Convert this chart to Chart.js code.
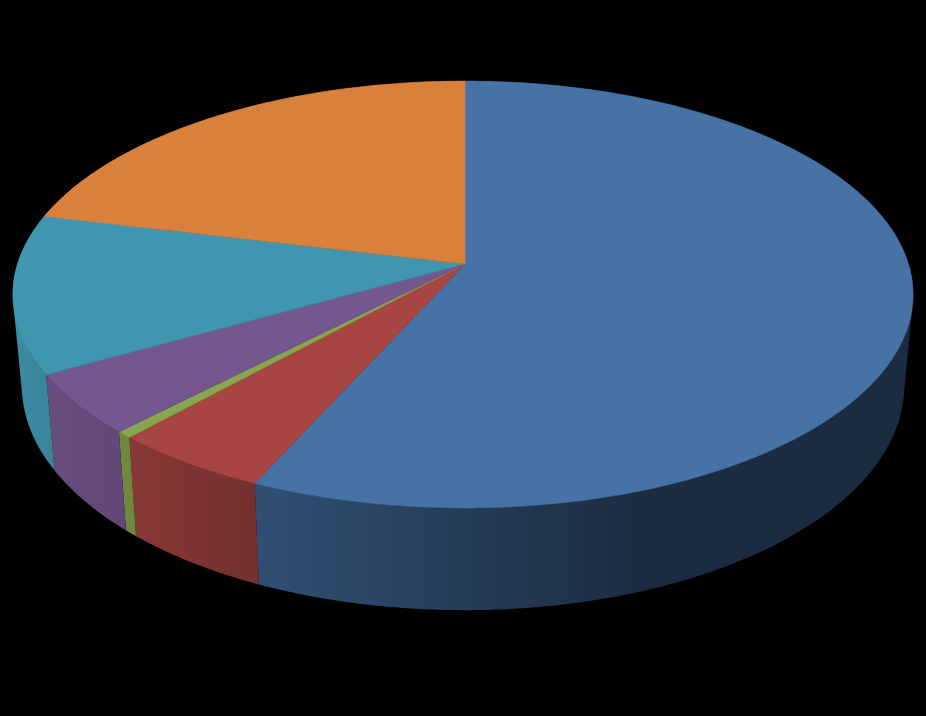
<!DOCTYPE html>
<html>
<head>
<meta charset="utf-8">
<title>Pie</title>
<script src="https://cdn.jsdelivr.net/npm/chart.js@4"></script>
<style>
html, body { margin: 0; padding: 0; background: #000; }
canvas { display: block; }
</style>
</head>
<body>
<canvas id="pie-chart" width="926" height="716"></canvas>
<script>
var categories = ["A", "B", "C", "D", "E", "F"];
var shares = [56.7, 5.0, 0.5, 4.6, 12.0, 21.2];
var topColors = ["#4672a6", "#a64542", "#89a54e", "#75578f", "#4096ae", "#d8813c"];

// perspective of the disc: the pie centre does not land on the ellipse centre
var apexX = 465, apexY = 264;
var persp = -0.1429;
var radiusLeft = 447.5, radiusRight = 443.5, radiusY = 209.1;
// lower rim of the wall
var floorY = 354, floorScaleX = 0.98, floorScaleY = 1.05;

function rimPoint(angle, lower) {
    var X = Math.cos(angle), Y = Math.sin(angle);
    var w = 1 + persp * Y;
    var px = (X < 0 ? radiusLeft : radiusRight) * X / w;
    var py = radiusY * Y / w;
    if (lower) {
        return { x: apexX + px * floorScaleX, y: floorY + py * floorScaleY };
    }
    return { x: apexX + px, y: apexY + py };
}

// wall gets darker from left to right, flat after the middle
function wallShade(x) {
    if (x < 255) return 0.92 - (x - 20) * 0.22 / 235;
    if (x < 640) return 0.70 - (x - 255) * 0.31 / 385;
    return 0.39;
}

function shadeColor(hex, f) {
    var r = parseInt(hex.substr(1, 2), 16);
    var g = parseInt(hex.substr(3, 2), 16);
    var b = parseInt(hex.substr(5, 2), 16);
    return "rgb(" + Math.round(r * f) + "," + Math.round(g * f) + "," + Math.round(b * f) + ")";
}

function wallGradient(ctx, color) {
    var grad = ctx.createLinearGradient(0, 0, 926, 0);
    for (var x = 0; x <= 926; x += 10) {
        grad.addColorStop(x / 926, shadeColor(color, wallShade(x)));
    }
    return grad;
}

// all quads turned the same way so the nonzero fill gives their union
function addQuad(ctx, q) {
    var area = 0;
    for (var n = 0; n < 4; n++) {
        var m = (n + 1) % 4;
        area += q[n].x * q[m].y - q[m].x * q[n].y;
    }
    if (area < 0) q.reverse();
    ctx.moveTo(q[0].x, q[0].y);
    ctx.lineTo(q[1].x, q[1].y);
    ctx.lineTo(q[2].x, q[2].y);
    ctx.lineTo(q[3].x, q[3].y);
    ctx.closePath();
}

var pie3d = {
    id: "pie3d",
    beforeDatasetsDraw: function (chart) {
        var ctx = chart.ctx;
        var arcs = chart.getDatasetMeta(0).data;
        var step = Math.PI / 360;

        ctx.save();
        // side wall
        arcs.forEach(function (arc, i) {
            ctx.beginPath();
            for (var a = arc.startAngle; a < arc.endAngle; a += step) {
                var b = Math.min(a + step, arc.endAngle);
                addQuad(ctx, [rimPoint(a, false), rimPoint(b, false), rimPoint(b, true), rimPoint(a, true)]);
            }
            ctx.fillStyle = wallGradient(ctx, topColors[i]);
            ctx.fill();
        });
        // top face
        arcs.forEach(function (arc, i) {
            ctx.beginPath();
            ctx.moveTo(apexX, apexY);
            for (var a = arc.startAngle; a < arc.endAngle; a += step) {
                var p = rimPoint(a, false);
                ctx.lineTo(p.x, p.y);
            }
            var end = rimPoint(arc.endAngle, false);
            ctx.lineTo(end.x, end.y);
            ctx.closePath();
            ctx.fillStyle = topColors[i];
            ctx.strokeStyle = topColors[i];
            ctx.lineWidth = 0.5;
            ctx.fill();
            ctx.stroke();
        });
        ctx.restore();
        return false;
    }
};

var pieChart = new Chart(document.getElementById("pie-chart"), {
    type: "pie",
    data: {
        labels: categories,
        datasets: [
            {
                data: shares,
                backgroundColor: topColors,
                borderWidth: 0,
            },
        ],
    },
    options: {
        responsive: false,
        animation: false,
        devicePixelRatio: 1,
        plugins: {
            legend: { display: false },
            tooltip: { enabled: false },
        },
    },
    plugins: [pie3d],
});
</script>
</body>
</html>
